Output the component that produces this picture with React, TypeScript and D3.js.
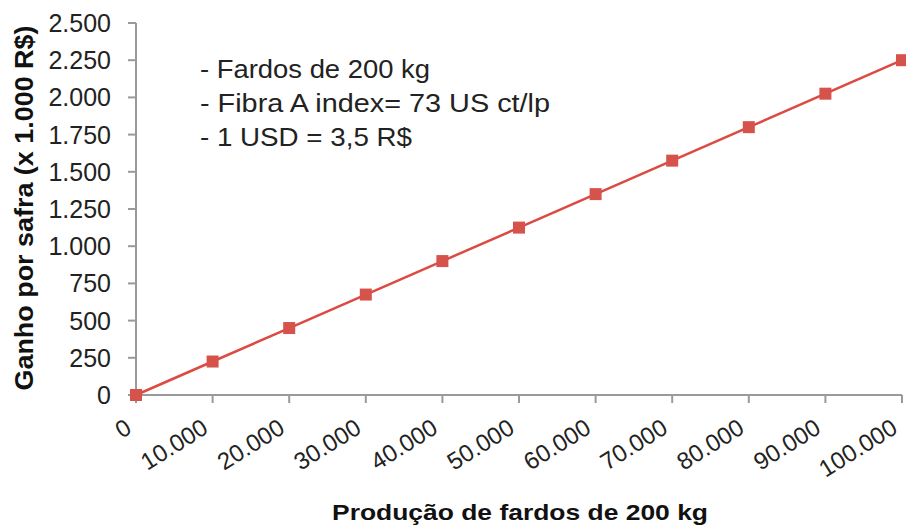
import React from 'react';
import * as d3 from 'd3';

// values
const producao = [0, 10000, 20000, 30000, 40000, 50000, 60000, 70000, 80000, 90000, 100000];
const ganho = [0, 225, 450, 675, 900, 1125, 1350, 1575, 1800, 2025, 2250];
const yTicks = [0, 250, 500, 750, 1000, 1250, 1500, 1750, 2000, 2250, 2500];
const notas = ['- Fardos de 200 kg', '- Fibra A index= 73 US ct/lp', '- 1 USD = 3,5 R$'];
const notaLengths = [230, 350, 212];

const W = 906;
const H = 526;
const FONT = '"Liberation Sans", Arial, Helvetica, sans-serif';

const ptBR = d3.formatLocale({ decimal: ',', thousands: '.', grouping: [3], currency: ['R$', ''] });
const fmt = ptBR.format(',d');

export default function App() {
  const x = d3.scaleLinear().domain([0, 100000]).range([136, 902]);
  const y = d3.scaleLinear().domain([0, 2500]).range([395, 23]);

  const line = d3
    .line<number>()
    .x((_, i) => x(producao[i]))
    .y((d) => y(d));

  const axisColor = '#9a9a9a';
  const textColor = '#222';
  const size = 12;

  return (
    <svg
      width={W}
      height={H}
      style={{ position: 'absolute', left: 0, top: 0, background: '#fff' }}
      fontFamily={FONT}
    >
      {/* y axis */}
      <line x1={x(0)} x2={x(0)} y1={y(2500)} y2={y(0)} stroke={axisColor} strokeWidth={2} />
      {yTicks.map((t) => (
        <g key={t}>
          <line x1={x(0) - 8} x2={x(0)} y1={y(t)} y2={y(t)} stroke={axisColor} strokeWidth={2} />
          <text
            x={111}
            y={y(t)}
            dy="0.36em"
            textAnchor="end"
            fontSize={25}
            fill={textColor}
          >
            {fmt(t)}
          </text>
        </g>
      ))}

      {/* x axis */}
      <line x1={x(0)} x2={x(100000)} y1={y(0)} y2={y(0)} stroke={axisColor} strokeWidth={2} />
      {producao.map((t) => (
        <g key={t}>
          <line x1={x(t)} x2={x(t)} y1={y(0)} y2={y(0) + 8} stroke={axisColor} strokeWidth={2} />
          <text
            transform={`translate(${x(t) - 3},${432}) rotate(-32)`}
            textAnchor="end"
            fontSize={24}
            fill={textColor}
          >
            {fmt(t)}
          </text>
        </g>
      ))}

      {/* series */}
      <path d={line(ganho) || ''} fill="none" stroke="#dc4a42" strokeWidth={2.5} />
      {ganho.map((v, i) => (
        <rect
          key={i}
          x={x(producao[i]) - size / 2}
          y={y(v) - size / 2}
          width={size}
          height={size}
          fill="#d6534c"
        />
      ))}

      {/* annotation */}
      {notas.map((n, i) => (
        <text
          key={n}
          x={200}
          y={78 + i * 34}
          fontSize={25}
          fill={textColor}
          textLength={notaLengths[i]}
          lengthAdjust="spacingAndGlyphs"
        >
          {n}
        </text>
      ))}

      {/* axis titles */}
      <text
        transform={`translate(33,${208}) rotate(-90)`}
        textAnchor="middle"
        fontSize={25}
        fontWeight="bold"
        fill="#111"
        textLength={365}
        lengthAdjust="spacingAndGlyphs"
      >
        Ganho por safra (x 1.000 R$)
      </text>
      <text
        x={520}
        y={520}
        textAnchor="middle"
        fontSize={22}
        fontWeight="bold"
        fill="#111"
        textLength={376}
        lengthAdjust="spacingAndGlyphs"
      >
        Produção de fardos de 200 kg
      </text>
    </svg>
  );
}
